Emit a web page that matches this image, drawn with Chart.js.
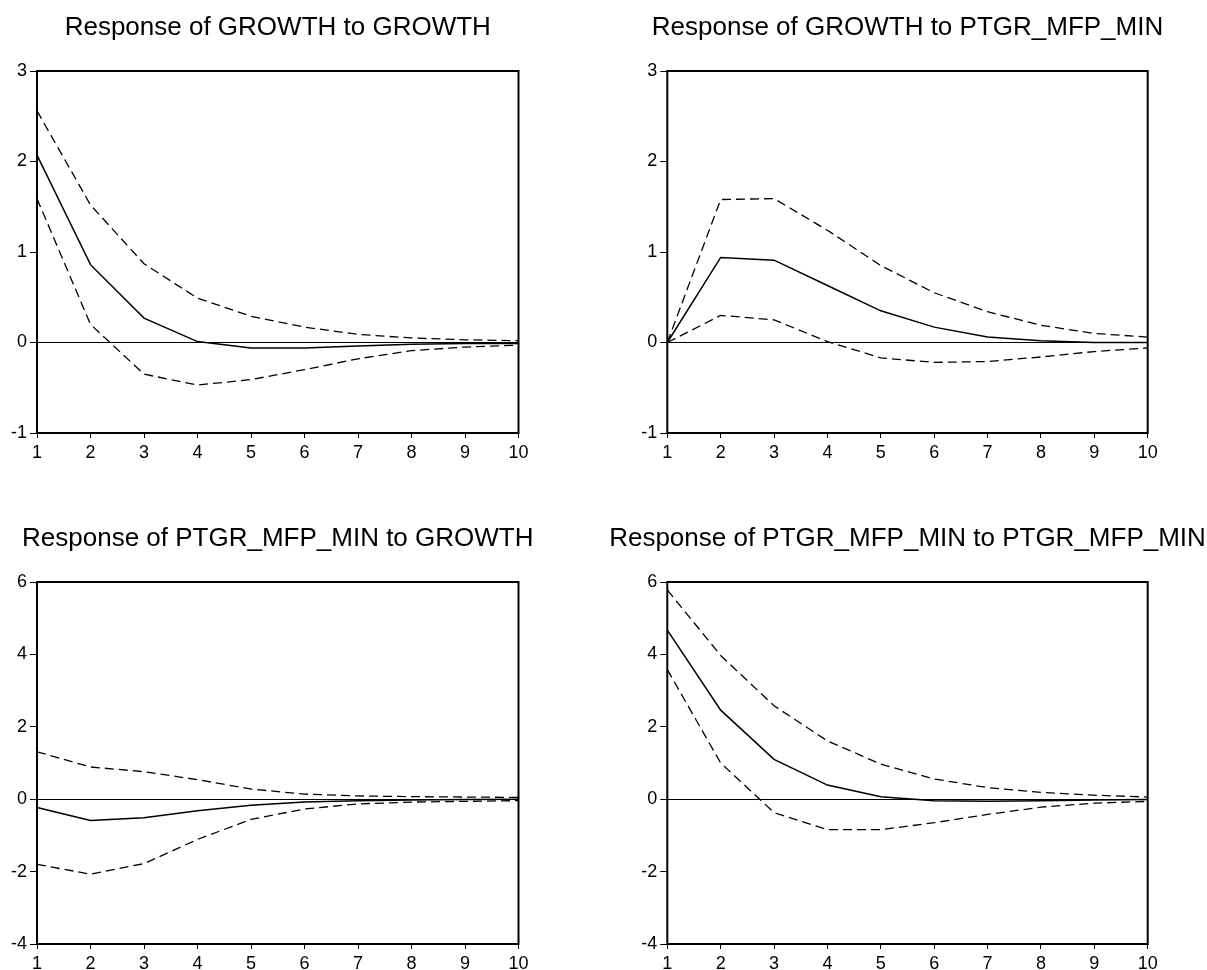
<!DOCTYPE html>
<html>
<head>
<meta charset="utf-8">
<script src="https://cdn.jsdelivr.net/npm/chart.js@4"></script>
<style>
  body { margin: 0; background: #fff; }
  #wrap { position: relative; width: 1207px; height: 970px; overflow: hidden; }
  canvas { position: absolute; }
</style>
</head>
<body>
<div id="wrap">
  <canvas id="c1"></canvas>
  <canvas id="c2"></canvas>
  <canvas id="c3"></canvas>
  <canvas id="c4"></canvas>
</div>
<script>
const steps = ["1", "2", "3", "4", "5", "6", "7", "8", "9", "10"];

// Response of GROWTH to GROWTH
const growthToGrowth = [2.07, 0.86, 0.27, 0.01, -0.06, -0.06, -0.04, -0.02, -0.01, -0.01];
const growthToGrowthUpper = [2.56, 1.52, 0.87, 0.49, 0.29, 0.17, 0.09, 0.05, 0.03, 0.02];
const growthToGrowthLower = [1.59, 0.20, -0.35, -0.47, -0.41, -0.30, -0.18, -0.09, -0.05, -0.03];

// Response of GROWTH to PTGR_MFP_MIN
const growthToPtgr = [0, 0.94, 0.91, 0.63, 0.35, 0.17, 0.06, 0.02, 0.0, 0.0];
const growthToPtgrUpper = [0, 1.58, 1.59, 1.24, 0.85, 0.55, 0.34, 0.19, 0.10, 0.06];
const growthToPtgrLower = [0, 0.30, 0.25, 0.01, -0.17, -0.22, -0.21, -0.16, -0.10, -0.06];

// Response of PTGR_MFP_MIN to GROWTH
const ptgrToGrowth = [-0.23, -0.59, -0.51, -0.32, -0.17, -0.08, -0.04, -0.02, -0.01, 0.0];
const ptgrToGrowthUpper = [1.31, 0.89, 0.76, 0.54, 0.28, 0.14, 0.09, 0.07, 0.06, 0.05];
const ptgrToGrowthLower = [-1.80, -2.07, -1.78, -1.11, -0.56, -0.27, -0.13, -0.08, -0.06, -0.04];

// Response of PTGR_MFP_MIN to PTGR_MFP_MIN
const ptgrToPtgr = [4.67, 2.46, 1.10, 0.39, 0.07, -0.04, -0.06, -0.04, -0.02, -0.01];
const ptgrToPtgrUpper = [5.78, 3.97, 2.58, 1.61, 0.97, 0.56, 0.32, 0.19, 0.11, 0.06];
const ptgrToPtgrLower = [3.58, 1.00, -0.37, -0.84, -0.84, -0.65, -0.42, -0.22, -0.11, -0.06];

const titles = [
  "Response of GROWTH to GROWTH",
  "Response of GROWTH to PTGR_MFP_MIN",
  "Response of PTGR_MFP_MIN to GROWTH",
  "Response of PTGR_MFP_MIN to PTGR_MFP_MIN",
];

const topRange = { min: -1, max: 3, step: 1 };
const bottomRange = { min: -4, max: 6, step: 2 };

const FONT = "'Liberation Sans', Arial, sans-serif";

// draws the panel title and the box around the plot
const framePlugin = {
  id: "frame",
  afterDraw(chart) {
    const { ctx, chartArea } = chart;
    const title = chart.options.plugins.frame.title;
    ctx.save();
    ctx.strokeStyle = "#000";
    ctx.lineWidth = 2;
    ctx.strokeRect(chartArea.left, chartArea.top, chartArea.right - chartArea.left, chartArea.bottom - chartArea.top);
    ctx.fillStyle = "#000";
    ctx.font = "26px " + FONT;
    ctx.textAlign = "center";
    ctx.textBaseline = "alphabetic";
    ctx.fillText(title, (chartArea.left + chartArea.right) / 2, chartArea.top - 36);
    ctx.restore();
  },
};

function makePanel(id, box, title, range, mid, upper, lower) {
  const el = document.getElementById(id);
  el.style.left = box.x + "px";
  el.style.top = box.y + "px";
  el.width = box.w;
  el.height = box.h;

  const dashed = { borderColor: "#000", borderWidth: 1.3, borderDash: [9, 5], pointRadius: 0, tension: 0, fill: false };

  return new Chart(el, {
    type: "line",
    data: {
      labels: steps,
      datasets: [
        { label: "Response", data: mid, borderColor: "#000", borderWidth: 1.5, pointRadius: 0, tension: 0, fill: false },
        Object.assign({ label: "+2 S.E.", data: upper }, dashed),
        Object.assign({ label: "-2 S.E.", data: lower }, dashed),
      ],
    },
    options: {
      responsive: false,
      animation: false,
      events: [],
      layout: { padding: { top: 71, right: box.padRight, bottom: 17, left: 0 } },
      plugins: {
        legend: { display: false },
        tooltip: { enabled: false },
        frame: { title: title },
      },
      scales: {
        x: {
          type: "category",
          offset: false,
          afterFit(scale) { scale.height = 30; },
          border: { display: false },
          grid: { drawOnChartArea: false, tickLength: 5, tickColor: "#000", tickWidth: 1 },
          ticks: { color: "#000", font: { family: FONT, size: 18 }, padding: 4, maxRotation: 0, autoSkip: false },
        },
        y: {
          min: range.min,
          max: range.max,
          afterFit(scale) { scale.width = box.yWidth; },
          border: { display: false },
          grid: {
            color: (c) => (c.tick && c.tick.value === 0 ? "#000" : "rgba(0,0,0,0)"),
            lineWidth: 1,
            tickLength: 7,
            tickColor: "#000",
            tickWidth: 1,
          },
          ticks: { stepSize: range.step, color: "#000", font: { family: FONT, size: 18 }, padding: 3 },
        },
      },
    },
    plugins: [framePlugin],
  });
}

makePanel("c1", { x: 0, y: 0, w: 603, h: 480, yWidth: 37, padRight: 84.5 }, titles[0], topRange,
  growthToGrowth, growthToGrowthUpper, growthToGrowthLower);
makePanel("c2", { x: 600, y: 0, w: 607, h: 480, yWidth: 67.3, padRight: 59.3 }, titles[1], topRange,
  growthToPtgr, growthToPtgrUpper, growthToPtgrLower);
makePanel("c3", { x: 0, y: 511, w: 603, h: 480, yWidth: 37, padRight: 84.5 }, titles[2], bottomRange,
  ptgrToGrowth, ptgrToGrowthUpper, ptgrToGrowthLower);
makePanel("c4", { x: 600, y: 511, w: 607, h: 480, yWidth: 67.3, padRight: 59.3 }, titles[3], bottomRange,
  ptgrToPtgr, ptgrToPtgrUpper, ptgrToPtgrLower);
</script>
</body>
</html>
